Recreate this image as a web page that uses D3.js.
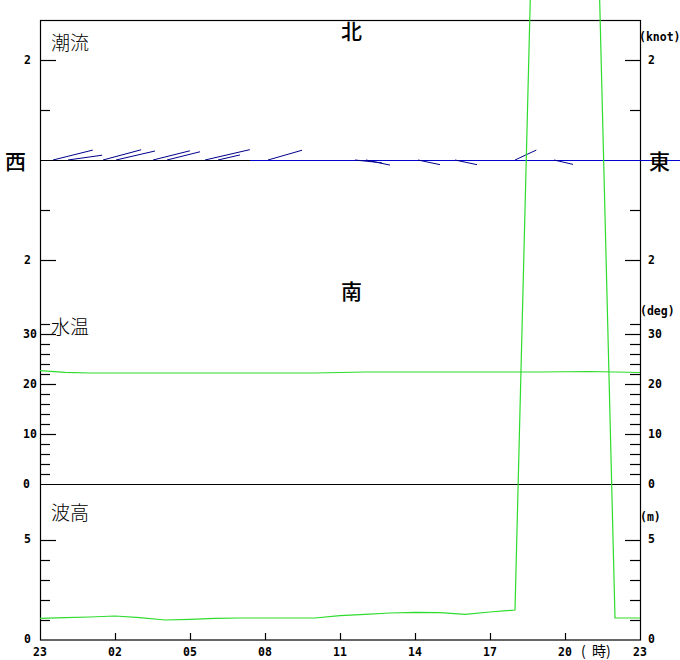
<!DOCTYPE html>
<html><head><meta charset="utf-8">
<script src="https://cdn.jsdelivr.net/npm/d3@7"></script>
<style>
body{margin:0;background:#fff;}
svg{display:block;}
.num{font-family:"DejaVu Sans Mono",monospace;font-weight:bold;font-size:11.5px;fill:#000;}
.jp{font-family:"Noto Sans CJK JP",sans-serif;fill:#000;}
</style></head><body>
<svg id="chart" width="680" height="660"></svg>
<script>
// ---- data ----
const hourLabels = ["23","02","05","08","11","14","17","20","23"];
const hourLabelPos = [0,3,6,9,12,15,18,21,24];
const hours = d3.range(0,25);
const waterTemp = [22.66,22.34,22.2,22.2,22.2,22.2,22.2,22.2,22.2,22.2,22.2,22.2,22.3,22.4,22.4,22.4,22.4,22.4,22.4,22.4,22.4,22.45,22.5,22.4,22.3];
const waveHeight = [1.08,1.12,1.15,1.2,1.12,1.0,1.03,1.08,1.1,1.1,1.1,1.1,1.22,1.28,1.35,1.38,1.37,1.28,1.4,1.5,51.5,51.5,51.5,1.1,1.1];
const curTime  = [0.52,1.12,2.52,3.04,4.52,5.08,6.6,7.12,9.12,12.6,13.04,15.12,16.6,19.0,20.56];
const curSpeed = [0.82,0.69,0.79,0.80,0.76,0.68,0.92,0.45,0.71,0.54,0.49,0.45,0.45,0.47,0.39];
const curDir   = [76,82,75,77,76,76,77,77,74,96,102,102,102,65,103];
const curTickVals = [2,1,0,-1,-2];
const curTickLabels = ["2","","","","2"];
const tempTickVals = d3.range(0,33,2);
const tempTickLabels = ["0","10","20","30"];
const waveTickVals = [1,2,3,4,5];
const waveTickLabels = ["0","5"];

// ---- scales ----
const svg = d3.select("#chart");
const x = d3.scaleLinear().domain([0,24]).range([40,640]);
const yCur = d3.scaleLinear().domain([-2,2]).range([260,60]);
const yTemp = d3.scaleLinear().domain([0,30]).range([484,334]);
const yWave = d3.scaleLinear().domain([0,5]).range([640,540]);
const green = "#2ddc2d";

const g = svg.append("g");
g.append("rect").attr("x",40.5).attr("y",20.5).attr("width",600).attr("height",619.5)
 .attr("fill","none").attr("stroke","#000").attr("stroke-width",1.2);
g.append("line").attr("x1",40).attr("x2",640).attr("y1",yCur(0)+0.5).attr("y2",yCur(0)+0.5).attr("stroke","#000");
g.append("line").attr("x1",40).attr("x2",640).attr("y1",yTemp(0)+0.5).attr("y2",yTemp(0)+0.5).attr("stroke","#000");
g.append("line").attr("x1",250).attr("x2",680).attr("y1",yCur(0)+0.5).attr("y2",yCur(0)+0.5).attr("stroke","#0000cc");

function tick(y, major, isRight){
  const L = isRight ? (major?15:10) : (major?16:10);
  const x0 = isRight ? 640 - L : 40;
  g.append("line").attr("x1",x0).attr("x2",x0+L).attr("y1",Math.round(y)+0.5).attr("y2",Math.round(y)+0.5)
   .attr("stroke","#000").attr("stroke-width",1.2);
}
curTickVals.forEach((v,i)=>{ if(v!==0){ const maj = Math.abs(v)===2; tick(yCur(v),maj,false); tick(yCur(v),maj,true);} });
curTickVals.forEach((v,i)=>{ if(curTickLabels[i]){
  g.append("text").attr("class","num").attr("x",24).attr("y",yCur(v)+4).text(curTickLabels[i]);
  g.append("text").attr("class","num").attr("x",648).attr("y",yCur(v)+4).text(curTickLabels[i]);
}});
tempTickVals.forEach(v=>{ if(v!==0){ const maj = v%10===0; tick(yTemp(v),maj,false); tick(yTemp(v),maj,true);} });
tempTickLabels.forEach(t=>{
  const v=+t;
  g.append("text").attr("class","num").attr("x",23).attr("y",yTemp(v)+4).text(t);
  g.append("text").attr("class","num").attr("x",648).attr("y",yTemp(v)+4).text(t);
});
waveTickVals.forEach(v=>{ const maj=v===5; tick(yWave(v),maj,false); tick(yWave(v),maj,true); });
waveTickLabels.forEach(t=>{
  const v=+t;
  g.append("text").attr("class","num").attr("x",24).attr("y",yWave(v)+3).text(t);
  g.append("text").attr("class","num").attr("x",648).attr("y",yWave(v)+3).text(t);
});
hourLabelPos.forEach((h,i)=>{
  if(h>0 && h<24) g.append("line").attr("x1",x(h)+0.5).attr("x2",x(h)+0.5).attr("y1",633).attr("y2",640).attr("stroke","#000").attr("stroke-width",1.2);
  g.append("text").attr("class","num").attr("x",x(h)).attr("y",656).attr("text-anchor","middle").text(hourLabels[i]);
});
g.append("text").attr("class","jp").attr("x",581).attr("y",656).attr("font-size",14).attr("xml:space","preserve").text("(  時)");

g.append("text").attr("class","num").attr("x",639).attr("y",41).attr("font-size",9.4).text("(knot)");
g.append("text").attr("class","num").attr("x",640).attr("y",315).attr("font-size",10).text("(deg)");
g.append("text").attr("class","num").attr("x",640).attr("y",521).attr("font-size",10).text("(m)");

const lab=(t,xx,yy,fs,w)=>g.append("text").attr("class","jp").attr("x",xx).attr("y",yy).attr("font-size",fs).attr("font-weight",w).text(t);
lab("潮流",51,50,19,300);
lab("水温",51,334,19,300);
lab("波高",51,520,19,300);
lab("北",341,39,21,500);
lab("南",341,299,21,500);
lab("西",5,169,21,500);
lab("東",649,169,21,500);

curTime.forEach((t,i)=>{
  const len = yCur(0) - yCur(curSpeed[i]);
  const a = curDir[i]*Math.PI/180;
  const x0 = x(t), y0 = yCur(0);
  g.append("line").attr("x1",x0).attr("y1",y0).attr("x2",x0+len*Math.sin(a)).attr("y2",y0-len*Math.cos(a))
   .attr("stroke","#00008c").attr("stroke-width",1);
});

g.append("path").datum(hours).attr("fill","none").attr("stroke",green).attr("stroke-width",1.2)
 .attr("d",d3.line().x(h=>x(h)).y(h=>yTemp(waterTemp[h])));
g.append("path").datum(hours).attr("fill","none").attr("stroke",green).attr("stroke-width",1.2)
 .attr("d",d3.line().x(h=>x(h)).y(h=>yWave(waveHeight[h])));
</script></body></html>
